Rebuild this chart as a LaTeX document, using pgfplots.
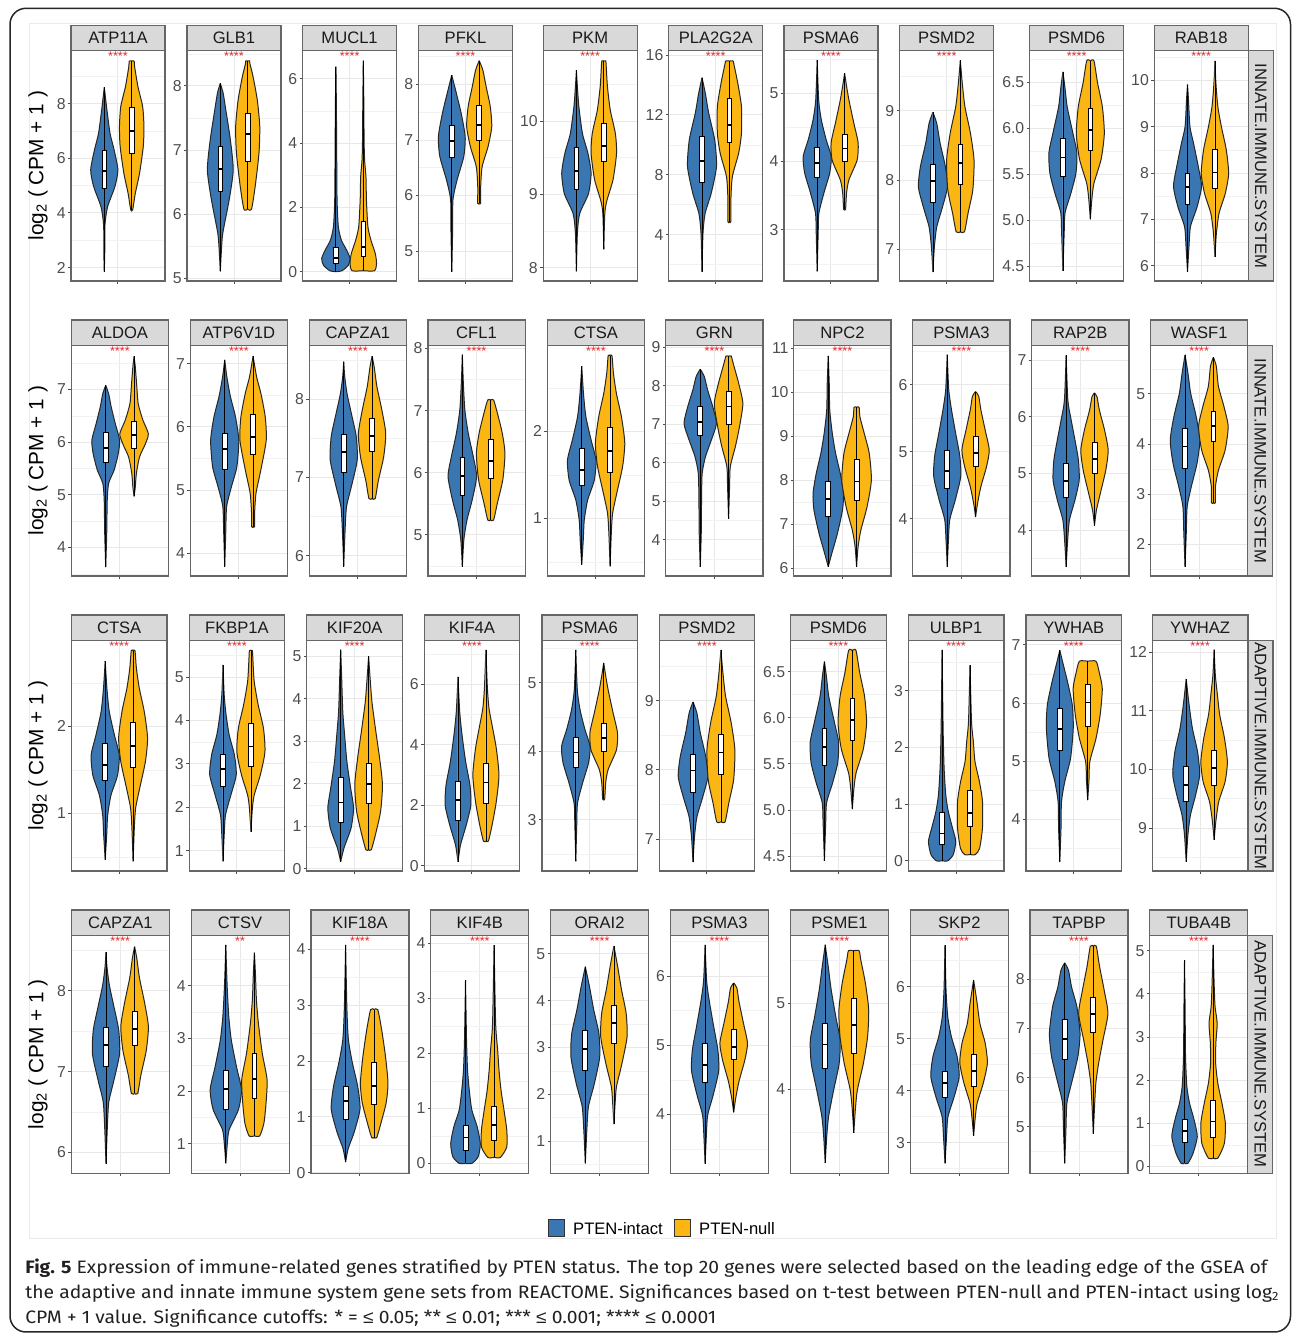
\documentclass[border=0pt]{standalone}
\usepackage{fontspec}
\setmainfont{Liberation Sans}
\newfontfamily\capfont{Fira Sans}
\newfontfamily\lsans{Liberation Sans}
\usepackage{graphicx}
\usepackage{pgfplots}
\pgfplotsset{compat=1.18}
\usepgfplotslibrary{statistics}

\definecolor{cB}{HTML}{3A77B2}
\definecolor{cO}{HTML}{FBB614}
\definecolor{stripfill}{HTML}{D9D9D9}
\definecolor{stripline}{HTML}{666666}
\definecolor{panelline}{HTML}{666666}
\definecolor{ticktext}{HTML}{4D4D4D}
\definecolor{striptext}{HTML}{1A1A1A}
\definecolor{starred}{HTML}{E4262B}
\definecolor{vline}{HTML}{262626}
\definecolor{captext}{HTML}{231F20}

\tikzset{stars/.style={font=\fontsize{6.3}{7}\selectfont, text=starred, anchor=north, inner sep=0pt, yshift=-0.6pt}}

\pgfplotsset{
 vp/.style={scale only axis, xmin=0.4, xmax=1.6, xtick={1}, xticklabels={},
  tick pos=left, tick align=outside, major tick length=1.5pt, minor tick length=0pt,
  grid=both, major grid style={draw=black!9, line width=0.5pt},
  minor grid style={draw=black!5, line width=0.3pt},
  axis line style={draw=panelline, line width=0.6pt},
  tick style={draw=black!70, line width=0.5pt},
  yticklabel style={font=\fontsize{7.9}{8.5}\selectfont, text=ticktext, inner sep=1pt},
  /pgf/number format/assume math mode=true, clip=false},
 r1/.style={vp, width=47pt, height=115.15pt},
 r2/.style={vp, width=48.6pt, height=115.35pt},
 r3/.style={vp, width=47.85pt, height=115.35pt},
 r4/.style={vp, width=49pt, height=119pt},
 gATP11A/.style={ymin=1.51, ymax=9.94, ytick={2,4,6,8}, minor ytick={3,5,7,9}},
 gGLB1/.style={ymin=4.96, ymax=8.55, ytick={5,6,7,8}, minor ytick={5.5,6.5,7.5,8.5}},
 gMUCL1/.style={ymin=-0.29, ymax=6.88, ytick={0,2,4,6}, minor ytick={1,3,5}},
 gPFKL/.style={ymin=4.46, ymax=8.61, ytick={5,6,7,8}, minor ytick={4.5,5.5,6.5,7.5,8.5}},
 gPKM/.style={ymin=7.82, ymax=10.96, ytick={8,9,10}, minor ytick={8.5,9.5,10.5}},
 gPLA2G2A/.style={ymin=0.9, ymax=16.29, ytick={4,8,12,16}, minor ytick={2,6,10,14}},
 gPSMA6/.style={ymin=2.25, ymax=5.62, ytick={3,4,5}, minor ytick={2.5,3.5,4.5,5.5}},
 gPSMD2/.style={ymin=6.54, ymax=9.87, ytick={7,8,9}, minor ytick={7.5,8.5,9.5}},
 gPSMD6/.style={ymin=4.34, ymax=6.84, ytick={4.5,5,5.5,6,6.5}, minor ytick={4.75,5.25,5.75,6.25,6.75},
   yticklabel style={/pgf/number format/.cd, fixed, fixed zerofill, precision=1}},
 gRAB18/.style={ymin=5.67, ymax=10.64, ytick={6,7,8,9,10}, minor ytick={6.5,7.5,8.5,9.5,10.5}},
 gALDOA/.style={ymin=3.46, ymax=7.84, ytick={4,5,6,7}, minor ytick={3.5,4.5,5.5,6.5,7.5}},
 gATP6V1D/.style={ymin=3.64, ymax=7.29, ytick={4,5,6,7}, minor ytick={4.5,5.5,6.5}},
 gCAPZA1/.style={ymin=5.74, ymax=8.69, ytick={6,7,8}, minor ytick={6.5,7.5,8.5}},
 gCFL1/.style={ymin=4.34, ymax=8.05, ytick={5,6,7,8}, minor ytick={4.5,5.5,6.5,7.5}},
 gCTSA/.style={ymin=0.34, ymax=2.99, ytick={1,2}, minor ytick={0.5,1.5,2.5}},
 gGRN/.style={ymin=3.06, ymax=9.05, ytick={4,5,6,7,8,9}, minor ytick={3.5,4.5,5.5,6.5,7.5,8.5}},
 gNPC2/.style={ymin=5.82, ymax=11.07, ytick={6,7,8,9,10,11}, minor ytick={6.5,7.5,8.5,9.5,10.5}},
 gPSMA3/.style={ymin=3.15, ymax=6.59, ytick={4,5,6}, minor ytick={3.5,4.5,5.5,6.5}},
 gRAP2B/.style={ymin=3.19, ymax=7.26, ytick={4,5,6,7}, minor ytick={3.5,4.5,5.5,6.5}},
 gWASF1/.style={ymin=1.37, ymax=5.97, ytick={2,3,4,5}, minor ytick={1.5,2.5,3.5,4.5,5.5}},
 gFKBP1A/.style={ymin=0.53, ymax=5.85, ytick={1,2,3,4,5}, minor ytick={1.5,2.5,3.5,4.5,5.5}},
 gKIF20A/.style={ymin=-0.05, ymax=5.38, ytick={0,1,2,3,4,5}, minor ytick={0.5,1.5,2.5,3.5,4.5}},
 gKIF4A/.style={ymin=-0.17, ymax=7.46, ytick={0,2,4,6}, minor ytick={1,3,5,7}},
 gULBP1/.style={ymin=-0.18, ymax=3.89, ytick={0,1,2,3}, minor ytick={0.5,1.5,2.5,3.5}},
 gYWHAB/.style={ymin=3.11, ymax=7.08, ytick={4,5,6,7}, minor ytick={3.5,4.5,5.5,6.5}},
 gYWHAZ/.style={ymin=8.27, ymax=12.2, ytick={9,10,11,12}, minor ytick={8.5,9.5,10.5,11.5}},
 gCTSV/.style={ymin=0.44, ymax=4.96, ytick={1,2,3,4}, minor ytick={0.5,1.5,2.5,3.5,4.5}},
 gKIF18A/.style={ymin=-0.01, ymax=4.25, ytick={0,1,2,3,4}, minor ytick={0.5,1.5,2.5,3.5}},
 gKIF4B/.style={ymin=-0.18, ymax=4.15, ytick={0,1,2,3,4}, minor ytick={0.5,1.5,2.5,3.5}},
 gORAI2/.style={ymin=0.31, ymax=5.4, ytick={1,2,3,4,5}, minor ytick={0.5,1.5,2.5,3.5,4.5}},
 gPSME1/.style={ymin=3.02, ymax=5.79, ytick={4,5}, minor ytick={3.5,4.5,5.5}},
 gSKP2/.style={ymin=2.41, ymax=6.99, ytick={3,4,5,6}, minor ytick={2.5,3.5,4.5,5.5,6.5}},
 gTAPBP/.style={ymin=4.06, ymax=8.89, ytick={5,6,7,8}, minor ytick={4.5,5.5,6.5,7.5,8.5}},
 gTUBA4B/.style={ymin=-0.16, ymax=5.36, ytick={0,1,2,3,4,5}, minor ytick={0.5,1.5,2.5,3.5,4.5}},
}

% violin: two mirrored halves read from a (y, half-width in px) profile
\newcommand{\vio}[3]{%
 \addplot[fill=#2, draw=vline, line width=0.5pt, smooth, tension=0.4] table[row sep=\\, x expr=#1+\thisrow{w}/80, y=y]{y w\\ #3};
 \addplot[fill=#2, draw=vline, line width=0.5pt, smooth, tension=0.4] table[row sep=\\, x expr=#1-\thisrow{w}/80, y=y]{y w\\ #3};
}
% box: position, lower whisker, q1, median, q3, upper whisker
\newcommand{\bx}[6]{%
 \addplot[draw=black, fill=white, line width=0.4pt, boxplot/draw direction=y, boxplot prepared={draw position=#1, lower whisker=#2, lower quartile=#3, median=#4, upper quartile=#5, upper whisker=#6, box extend=0.06, whisker extend=0, every median/.style={line width=0.9pt}}] coordinates {};
}
\newcommand{\defgene}[2]{\expandafter\def\csname c#1\endcsname{#2}}

\newcommand{\panel}[6]{% name, x, ytop, rowstyle, gene, stars
 \begin{axis}[name=#1, at={(#2pt,#3pt)}, anchor=north west, #4, g#5]
 \csname c#5\endcsname
 \node[stars] at (rel axis cs:0.5,1) {#6};
 \end{axis}
 \draw[fill=stripfill, draw=stripline, line width=0.6pt] (#1.north west) rectangle ([yshift=12.65pt]#1.north east);
 \node[font=\fontsize{8.3}{9}\selectfont, text=striptext, anchor=base, inner sep=0pt] at ([yshift=3.35pt]#1.north) {#5};
}
\newcommand{\facet}[2]{%
 \draw[fill=stripfill, draw=stripline, line width=0.6pt] (#1.north east) rectangle ([xshift=12.5pt]#1.south east);
 \node[rotate=-90, font=\fontsize{8.3}{9}\selectfont, text=striptext, inner sep=0pt] at ([xshift=6.25pt]#1.east) {#2};
}

% ---------------- data ----------------
\defgene{ATP11A}{%
\vio{0.825}{cB}{1.85 0\\2.6 0.5\\3.56 0.7\\4.23 3.4\\4.96 10.8\\5.57 13.9\\6.3 10.1\\6.91 5.9\\7.77 2.7\\8.6 0\\}%
\vio{1.175}{cO}{4.11 0\\4.11 1\\4.72 3.7\\5.45 8\\6.43 11.8\\7.16 12.5\\7.89 11.2\\8.62 6.4\\9.35 3\\9.56 2.5\\9.56 0\\}%
\bx{0.825}{1.85}{4.9}{5.55}{6.3}{8.6}%
\bx{1.175}{4.11}{6.18}{7.01}{7.87}{9.56}}

\defgene{GLB1}{%
\vio{0.825}{cB}{5.11 0\\5.4 1\\5.70 2.5\\6.22 9\\6.69 13.2\\7.16 10.3\\7.63 5.6\\7.89 2.9\\8.04 0\\}%
\vio{1.175}{cO}{6.08 0\\6.08 3.9\\6.43 7.6\\6.95 11.5\\7.37 12.3\\7.78 9.8\\8.15 5.4\\8.35 2.2\\8.39 2\\8.39 0\\}%
\bx{0.825}{5.11}{6.35}{6.70}{7.06}{8.04}%
\bx{1.175}{6.08}{6.83}{7.25}{7.58}{8.39}}

\defgene{MUCL1}{%
\vio{0.825}{cB}{0 0\\0.03 6.3\\0.2 12.7\\0.41 14.5\\0.67 11\\0.98 5.6\\1.4 2.5\\2.23 1.2\\3.79 0.8\\5.2 0.5\\6.38 0\\}%
\vio{1.175}{cO}{0.03 0\\0.03 11.5\\0.26 13.5\\0.57 12.2\\0.98 7.8\\1.4 4.7\\2.23 3.2\\2.96 2.7\\3.48 1.3\\4.1 0.8\\5.3 0.5\\6.57 0\\}%
\bx{0.825}{0}{0.26}{0.43}{0.76}{6.38}%
\bx{1.175}{0.03}{0.49}{0.76}{1.58}{6.57}}

\defgene{PFKL}{%
\vio{0.825}{cB}{4.63 0\\5.32 0.8\\5.92 1.2\\6.28 5.4\\6.70 12.2\\7.06 13.7\\7.48 9.6\\7.84 4.7\\8.17 0\\}%
\vio{1.175}{cO}{5.86 0\\5.86 1.5\\6.16 1.5\\6.52 3\\6.88 9\\7.24 12.8\\7.60 11.3\\7.96 7.1\\8.26 3.7\\8.43 0\\}%
\bx{0.825}{4.63}{6.69}{6.98}{7.26}{8.17}%
\bx{1.175}{5.86}{6.99}{7.27}{7.62}{8.43}}

\defgene{PKM}{%
\vio{0.825}{cB}{7.95 0\\8.47 1\\8.74 3.4\\9.01 12.3\\9.29 15\\9.56 11.8\\9.83 6.2\\10.2 2.5\\10.47 1\\10.69 0\\}%
\vio{1.175}{cO}{8.25 0\\8.74 1\\8.92 3.2\\9.2 9.4\\9.56 13\\9.83 11.8\\10.15 6.6\\10.47 3.7\\10.74 2.5\\10.82 2\\10.82 0\\}%
\bx{0.825}{7.95}{9.07}{9.32}{9.64}{10.69}%
\bx{1.175}{8.25}{9.45}{9.66}{9.97}{10.82}}

\defgene{PLA2G2A}{%
\vio{0.825}{cB}{1.52 0\\4.08 1\\5.42 3.2\\6.76 9.4\\8.54 14.8\\10.32 13\\12.1 6.9\\13.44 3.4\\14.49 0\\}%
\vio{1.175}{cO}{4.86 0\\4.86 1.5\\6.31 1.5\\7.87 3\\9.43 9.4\\10.77 12.3\\12.55 12.3\\14.1 8.6\\15.44 4.4\\15.6 3.7\\15.6 0\\}%
\bx{0.825}{1.52}{7.47}{8.94}{10.54}{14.49}%
\bx{1.175}{4.86}{10.16}{11.32}{13.08}{15.6}}

\defgene{PSMA6}{%
\vio{0.825}{cB}{2.39 0\\2.95 1\\3.24 1.7\\3.54 6.9\\3.83 12.8\\4.07 14.3\\4.32 9.1\\4.61 4.2\\4.9 1.5\\5.48 0\\}%
\vio{1.175}{cO}{3.3 0\\3.3 1\\3.54 2\\3.73 4.4\\4.02 12.8\\4.27 13.8\\4.56 9.4\\4.9 4.4\\5.1 2\\5.29 0\\}%
\bx{0.825}{2.39}{3.76}{3.98}{4.2}{5.48}%
\bx{1.175}{3.3}{4.0}{4.19}{4.40}{5.29}}

\defgene{PSMD2}{%
\vio{0.825}{cB}{6.67 0\\7.03 1.5\\7.32 3.9\\7.61 9.8\\7.9 14.8\\8.19 12.8\\8.53 7.4\\8.82 3.9\\8.98 0\\}%
\vio{1.175}{cO}{7.25 0\\7.25 4.2\\7.52 7.9\\7.86 12.8\\8.29 14\\8.68 10.3\\9.06 4.7\\9.4 2\\9.73 0\\}%
\bx{0.825}{6.67}{7.68}{7.99}{8.23}{8.98}%
\bx{1.175}{7.25}{7.94}{8.25}{8.51}{9.73}}

\defgene{PSMD6}{%
\vio{0.825}{cB}{4.45 0\\4.86 1.3\\5.08 2.2\\5.29 8.1\\5.51 13.3\\5.73 14.3\\5.94 10.3\\6.23 4.4\\6.45 2\\6.61 0\\}%
\vio{1.175}{cO}{5.01 0\\5.22 1.5\\5.40 3.7\\5.66 11\\5.94 14.3\\6.23 12.3\\6.49 7.4\\6.73 3.7\\6.73 0\\}%
\bx{0.825}{4.45}{5.48}{5.68}{5.89}{6.61}%
\bx{1.175}{5.01}{5.76}{5.98}{6.21}{6.73}}

\defgene{RAB18}{%
\vio{0.825}{cB}{5.87 0\\6.41 1.5\\6.84 3\\7.27 9.8\\7.71 14.3\\8.14 11\\8.64 6.2\\9.0 2.5\\9.58 1\\9.91 0\\}%
\vio{1.175}{cO}{6.19 0\\6.7 1.5\\7.13 4.2\\7.56 10.6\\7.99 14\\8.5 11.6\\9.0 6.6\\9.43 3\\9.94 1\\10.42 0\\}%
\bx{0.825}{5.87}{7.33}{7.69}{7.99}{9.91}%
\bx{1.175}{6.19}{7.67}{8.01}{8.51}{10.42}}

\defgene{ALDOA}{%
\vio{0.825}{cB}{3.63 0\\4.27 1\\4.9 1.5\\5.22 2.9\\5.47 8.3\\5.78 12.4\\6.04 13.7\\6.35 9.5\\6.67 5.4\\6.92 2.9\\7.08 0\\}%
\vio{1.175}{cO}{4.97 0\\5.15 1.2\\5.41 2.3\\5.72 5.4\\5.97 11.2\\6.16 14.1\\6.42 8.7\\6.73 4.1\\7.11 2.5\\7.43 1.2\\7.63 0\\}%
\bx{0.825}{3.63}{5.61}{5.89}{6.18}{7.08}%
\bx{1.175}{4.97}{5.88}{6.13}{6.4}{7.63}}

\defgene{ATP6V1D}{%
\vio{0.825}{cB}{3.79 0\\4.32 1\\4.74 1.9\\5.05 6.6\\5.37 12\\5.79 13.9\\6.16 10.6\\6.48 5.6\\6.79 2.1\\7.06 0\\}%
\vio{1.175}{cO}{4.42 0\\4.42 1.5\\4.63 1.5\\4.95 2.9\\5.32 7.7\\5.79 13\\6.16 12\\6.53 7.7\\6.79 3.5\\7.12 0\\}%
\bx{0.825}{3.79}{5.32}{5.65}{5.89}{7.06}%
\bx{1.175}{4.42}{5.57}{5.84}{6.2}{7.12}}

\defgene{CAPZA1}{%
\vio{0.825}{cB}{5.86 0\\6.28 1.2\\6.62 2.7\\6.88 7.5\\7.22 13.3\\7.52 12.4\\7.82 7.5\\8.07 3.3\\8.29 1\\8.48 0\\}%
\vio{1.175}{cO}{6.73 0\\6.73 3.1\\6.96 6.2\\7.26 11.4\\7.56 13.5\\7.86 9.7\\8.16 4.8\\8.41 2.1\\8.55 0\\}%
\bx{0.825}{5.86}{7.07}{7.33}{7.55}{8.48}%
\bx{1.175}{6.73}{7.33}{7.53}{7.75}{8.55}}

\defgene{CFL1}{%
\vio{0.825}{cB}{4.49 0\\4.92 1.5\\5.24 4.6\\5.56 9.7\\5.94 14.1\\6.26 10.8\\6.64 5.8\\7.01 2.5\\7.44 1\\7.9 0\\}%
\vio{1.175}{cO}{5.24 0\\5.24 2.9\\5.51 6.6\\5.89 12\\6.31 14.1\\6.64 11.4\\6.96 6.6\\7.17 2.9\\7.17 0\\}%
\bx{0.825}{4.49}{5.64}{5.95}{6.25}{7.9}%
\bx{1.175}{5.24}{5.91}{6.19}{6.53}{7.17}}

\defgene{CTSA}{%
\vio{0.825}{cB}{0.47 0\\0.75 1.5\\0.98 2.5\\1.21 5.8\\1.44 12.4\\1.67 14.1\\1.9 9.3\\2.17 4.1\\2.44 1.7\\2.75 0\\}%
\vio{1.175}{cO}{0.45 0\\0.83 1.2\\1.06 2.5\\1.29 6.6\\1.6 12.4\\1.87 14.5\\2.17 11.2\\2.44 6.2\\2.67 3.3\\2.87 1.9\\2.87 0\\}%
\bx{0.825}{0.47}{1.38}{1.56}{1.8}{2.75}%
\bx{1.175}{0.45}{1.53}{1.78}{2.05}{2.87}}

\defgene{GRN}{%
\vio{0.825}{cB}{3.3 0\\4.16 1\\5.03 1.3\\5.72 1.9\\6.16 5.2\\6.59 11\\7.02 16\\7.46 12.3\\7.89 7.3\\8.24 4\\8.43 0\\}%
\vio{1.175}{cO}{4.54 0\\5.38 1\\5.9 1.7\\6.42 6.7\\6.94 10.8\\7.54 14.1\\8.06 10\\8.5 5.4\\8.71 3.3\\8.77 2.7\\8.77 0\\}%
\bx{0.825}{3.3}{6.7}{7.06}{7.46}{8.43}%
\bx{1.175}{4.54}{7.0}{7.46}{7.85}{8.77}}

\defgene{NPC2}{%
\vio{0.825}{cB}{6.03 0\\6.33 3.5\\6.79 9.1\\7.32 14.1\\7.7 15\\8.15 11.9\\8.61 7.3\\9.07 4\\9.6 1.5\\10.2 1\\10.83 0\\}%
\vio{1.175}{cO}{6.03 0\\6.49 1.5\\6.86 4.2\\7.4 10.4\\8.0 14.6\\8.61 12.5\\9.07 7.5\\9.44 3.3\\9.66 2.5\\9.66 0\\}%
\bx{0.825}{6.03}{7.17}{7.57}{7.97}{10.83}%
\bx{1.175}{6.03}{7.53}{7.97}{8.47}{9.66}}

\defgene{PSMA3}{%
\vio{0.825}{cB}{3.29 0\\3.69 1.2\\3.99 2.5\\4.28 7.9\\4.63 13.3\\4.93 12.5\\5.28 8.3\\5.63 4.2\\5.93 1.5\\6.45 0\\}%
\vio{1.175}{cO}{4.03 0\\4.23 1.9\\4.48 5.2\\4.78 10.8\\5.03 13.5\\5.33 9.4\\5.63 5.2\\5.83 3.1\\5.9 0\\}%
\bx{0.825}{3.29}{4.46}{4.72}{5.03}{6.45}%
\bx{1.175}{4.03}{4.79}{4.98}{5.23}{5.9}}

\defgene{RAP2B}{%
\vio{0.825}{cB}{3.35 0\\3.82 1.5\\4.18 3.3\\4.53 8.7\\4.88 12.9\\5.24 12.1\\5.59 8.7\\5.94 5\\6.29 1.7\\7.08 0\\}%
\vio{1.175}{cO}{4.08 0\\4.35 1.9\\4.65 5.8\\5.06 11.2\\5.41 13.5\\5.76 10\\6.12 4.8\\6.35 2.5\\6.42 0\\}%
\bx{0.825}{3.35}{4.58}{4.86}{5.18}{7.08}%
\bx{1.175}{4.08}{5.0}{5.25}{5.54}{6.42}}

\defgene{WASF1}{%
\vio{0.825}{cB}{1.55 0\\2.22 1.2\\2.75 2.1\\3.15 6.2\\3.62 11.9\\4.08 14.6\\4.55 11\\5.01 5.6\\5.41 2.9\\5.78 0\\}%
\vio{1.175}{cO}{2.83 0\\2.83 2\\3.15 2\\3.48 5\\3.88 11.6\\4.35 14.6\\4.75 10.4\\5.15 5\\5.55 2.9\\5.73 0\\}%
\bx{0.825}{1.55}{3.52}{3.95}{4.31}{5.78}%
\bx{1.175}{2.83}{4.05}{4.36}{4.65}{5.73}}

\defgene{FKBP1A}{%
\vio{0.825}{cB}{0.75 0\\1.36 1.2\\1.82 2.5\\2.28 7.9\\2.75 13.3\\3.21 11.4\\3.67 6.2\\4.13 3.1\\4.59 1.2\\5.28 0\\}%
\vio{1.175}{cO}{1.44 0\\1.98 1.5\\2.28 3.3\\2.75 9.5\\3.28 14.1\\3.82 12.6\\4.36 7.3\\4.9 3.3\\5.36 2.1\\5.61 1.5\\5.61 0\\}%
\bx{0.825}{0.75}{2.49}{2.88}{3.21}{5.28}%
\bx{1.175}{1.44}{2.95}{3.4}{3.94}{5.61}}

\defgene{KIF20A}{%
\vio{0.825}{cB}{0.17 0\\0.49 3.3\\0.96 10.4\\1.43 12.9\\1.9 10\\2.53 6.2\\3.16 3.9\\3.7 2.1\\4.49 1\\5.16 0\\}%
\vio{1.175}{cO}{0.45 0\\0.45 2.7\\0.8 6.8\\1.35 12\\1.98 13.9\\2.61 11\\3.31 6.8\\3.94 3.3\\4.49 1.5\\5.0 0\\}%
\bx{0.825}{0.17}{1.09}{1.56}{2.15}{5.16}%
\bx{1.175}{0.45}{1.55}{2.0}{2.49}{5.0}}

\defgene{KIF4A}{%
\vio{0.825}{cB}{0.13 0\\0.69 2.5\\1.35 8.3\\2.01 12.9\\2.67 12\\3.44 7.7\\4.32 4.1\\5.1 1.7\\6.25 0\\}%
\vio{1.175}{cO}{0.82 0\\0.82 2.5\\1.35 6.2\\2.12 10.4\\3.0 13.1\\3.89 10.4\\4.65 6.2\\5.21 3.1\\5.87 1.5\\7.14 0\\}%
\bx{0.825}{0.13}{1.49}{2.17}{2.8}{6.25}%
\bx{1.175}{0.82}{2.06}{2.76}{3.39}{7.14}}

\defgene{ULBP1}{%
\vio{0.825}{cB}{0 0\\0 5.8\\0.11 11.2\\0.34 13.7\\0.58 10.4\\0.87 6.2\\1.16 3.7\\1.64 2\\2.34 1\\3.72 0\\}%
\vio{1.175}{cO}{0.11 0\\0.11 5.4\\0.22 9.6\\0.58 12.5\\1.05 12.5\\1.4 9.4\\1.75 5\\2.11 3.3\\2.46 1.5\\3.45 0\\}%
\bx{0.825}{0}{0.29}{0.48}{0.86}{3.72}%
\bx{1.175}{0.11}{0.61}{0.84}{1.24}{3.45}}

\defgene{YWHAB}{%
\vio{0.825}{cB}{3.27 0\\3.84 1.2\\4.3 1.7\\4.65 5\\5.05 10.8\\5.57 13.5\\5.97 12.5\\6.37 7.7\\6.66 3.5\\6.91 0\\}%
\vio{1.175}{cO}{4.33 0\\4.65 1.2\\4.99 2.1\\5.39 8.3\\5.8 12.5\\6.25 14.6\\6.54 11.4\\6.72 8.3\\6.72 0\\}%
\bx{0.825}{3.27}{5.18}{5.55}{5.9}{6.91}%
\bx{1.175}{4.33}{5.59}{6.01}{6.32}{6.72}}

\defgene{YWHAZ}{%
\vio{0.825}{cB}{8.43 0\\8.88 1.7\\9.22 4.2\\9.56 9.4\\9.91 13.5\\10.3 11.4\\10.7 6.2\\11.1 2.9\\11.54 0\\}%
\vio{1.175}{cO}{8.8 0\\9.11 1.7\\9.45 4.6\\9.79 11\\10.13 13.3\\10.53 10.4\\10.93 5.6\\11.27 3.3\\11.61 1.2\\12.04 0\\}%
\bx{0.825}{8.43}{9.46}{9.73}{10.05}{11.54}%
\bx{1.175}{8.8}{9.72}{10.03}{10.33}{12.04}}

\defgene{CTSV}{%
\vio{0.825}{cB}{0.63 0\\1.01 1.5\\1.27 3.3\\1.65 12.4\\2.03 15.3\\2.47 10.4\\2.97 5.4\\3.42 2.9\\4.05 1.2\\4.78 0\\}%
\vio{1.175}{cO}{1.15 0\\1.15 5.2\\1.39 9.3\\1.77 11.4\\2.22 12.4\\2.72 7.7\\3.29 3.9\\3.73 2\\4.24 1\\4.63 0\\}%
\bx{0.825}{0.63}{1.66}{2.04}{2.39}{4.78}%
\bx{1.175}{1.15}{1.87}{2.23}{2.72}{4.63}}

\defgene{KIF18A}{%
\vio{0.825}{cB}{0.19 0\\0.43 2.5\\0.72 8.3\\1.14 14.1\\1.55 11.8\\1.97 6.6\\2.39 2.7\\2.98 1.2\\4.08 0\\}%
\vio{1.175}{cO}{0.63 0\\0.63 2.5\\0.9 6.8\\1.26 11.8\\1.61 13.5\\2.09 11\\2.56 7.3\\2.92 3.5\\2.92 0\\}%
\bx{0.825}{0.19}{0.96}{1.28}{1.54}{4.08}%
\bx{1.175}{0.63}{1.23}{1.55}{1.97}{2.92}}

\defgene{KIF4B}{%
\vio{0.825}{cB}{0 0\\0 6.2\\0.12 12.4\\0.36 14.5\\0.67 11.4\\0.97 6.2\\1.33 3.7\\1.7 2\\2.24 1\\3.33 0\\}%
\vio{1.175}{cO}{0.11 0\\0.11 6.2\\0.3 12.4\\0.61 12.4\\0.97 9.7\\1.33 6.8\\1.7 4.8\\2.06 3.5\\2.55 1.5\\3.97 0\\}%
\bx{0.825}{0}{0.24}{0.47}{0.7}{3.33}%
\bx{1.175}{0.11}{0.42}{0.7}{1.03}{3.97}}

\defgene{ORAI2}{%
\vio{0.825}{cB}{0.52 0\\1.24 1.5\\1.74 3.1\\2.23 8.9\\2.8 14.1\\3.3 13.3\\3.8 8.3\\4.3 4.1\\4.73 0\\}%
\vio{1.175}{cO}{1.36 0\\1.81 1.2\\2.16 2.5\\2.66 7.9\\3.23 12.9\\3.73 12\\4.23 7.5\\4.73 3.7\\5.17 0\\}%
\bx{0.825}{0.52}{2.52}{2.96}{3.36}{4.73}%
\bx{1.175}{1.36}{3.09}{3.52}{3.9}{5.17}}

\defgene{PSME1}{%
\vio{0.825}{cB}{3.14 0\\3.45 1.5\\3.68 3.3\\3.99 8.3\\4.3 13.7\\4.57 14.6\\4.84 10.4\\5.16 5.8\\5.43 2.9\\5.68 0\\}%
\vio{1.175}{cO}{3.49 0\\3.76 1.5\\3.99 3.5\\4.3 9.4\\4.61 13.5\\4.92 14.6\\5.23 11.4\\5.5 6.9\\5.61 5.2\\5.61 0\\}%
\bx{0.825}{3.14}{4.24}{4.52}{4.76}{5.68}%
\bx{1.175}{3.49}{4.41}{4.75}{5.06}{5.61}}

\defgene{SKP2}{%
\vio{0.825}{cB}{2.6 0\\3.12 1.5\\3.5 2.9\\3.88 8.9\\4.27 13.9\\4.65 11.9\\5.04 6.2\\5.42 2.7\\5.94 1\\6.8 0\\}%
\vio{1.175}{cO}{3.13 0\\3.5 1.7\\3.76 3.5\\4.14 9.4\\4.53 13.5\\4.91 11.4\\5.29 6.2\\5.68 3.5\\5.94 1.5\\6.13 0\\}%
\bx{0.825}{2.6}{3.87}{4.15}{4.38}{6.8}%
\bx{1.175}{3.13}{4.09}{4.38}{4.69}{6.13}}

\defgene{TAPBP}{%
\vio{0.825}{cB}{4.26 0\\4.94 1.2\\5.48 2.1\\5.89 6.7\\6.43 12.9\\6.9 15\\7.44 11.9\\7.84 6.7\\8.18 3.7\\8.33 0\\}%
\vio{1.175}{cO}{4.86 0\\5.41 1.2\\5.89 2.5\\6.29 5.2\\6.76 9.4\\7.3 14.3\\7.78 10.6\\8.25 6.2\\8.67 2.9\\8.67 0\\}%
\bx{0.825}{4.26}{6.37}{6.78}{7.18}{8.33}%
\bx{1.175}{4.86}{6.91}{7.29}{7.63}{8.67}}

\defgene{TUBA4B}{%
\vio{0.825}{cB}{0.07 0\\0.07 3.3\\0.3 8.3\\0.69 12.5\\1.08 9.4\\1.46 5\\1.85 2.3\\2.55 1\\3.6 0.6\\4.78 0\\}%
\vio{1.175}{cO}{0.19 0\\0.19 4.6\\0.53 11\\1.0 12\\1.46 8.7\\1.93 4.6\\2.39 2.5\\2.86 2.7\\3.32 4\\3.71 1.9\\4.25 1\\5.14 0\\}%
\bx{0.825}{0.07}{0.55}{0.83}{1.09}{4.78}%
\bx{1.175}{0.19}{0.67}{1.04}{1.52}{5.14}}

\newlength\capw
\newcommand{\capsize}{\fontsize{9}{11}\selectfont}
\newcommand{\lineA}{\textbf{Fig. 5} Expression of immune-related genes stratified by PTEN status. The top 20 genes were selected based on the leading edge of the GSEA of}
\newcommand{\lineB}{the adaptive and innate immune system gene sets from REACTOME. Significances based on t-test between PTEN-null and PTEN-intact using log\textsubscript{2}}
\newcommand{\lineC}{CPM + 1 value. Significance cutoffs: * = {\lsans ≤} 0.05; ** {\lsans ≤} 0.01; *** {\lsans ≤} 0.001; **** {\lsans ≤} 0.0001}

\begin{document}%
\settowidth\capw{\capfont\capsize\lineA}%
\pgfmathsetmacro\capsx{621/\capw}%
\begin{tikzpicture}
\useasboundingbox (0,0) rectangle (646pt,668.5pt);
\draw[draw=black!8, line width=0.5pt] (14.5pt,49pt) rectangle (638pt,656.5pt);
\draw[draw=black!85, line width=0.75pt, rounded corners=8pt] (5pt,2.5pt) rectangle (645.25pt,664.35pt);

% Row 1
\panel{a1}{35.5}{643.15}{r1}{ATP11A}{****}
\panel{a2}{93.5}{643.15}{r1}{GLB1}{****}
\panel{a3}{151.3}{643.15}{r1}{MUCL1}{****}
\panel{a4}{209.25}{643.15}{r1}{PFKL}{****}
\panel{a5}{271.55}{643.15}{r1}{PKM}{****}
\panel{a6}{334.35}{643.15}{r1}{PLA2G2A}{****}
\panel{a7}{391.95}{643.15}{r1}{PSMA6}{****}
\panel{a8}{449.8}{643.15}{r1}{PSMD2}{****}
\panel{a9}{514.8}{643.15}{r1}{PSMD6}{****}
\panel{a10}{577.1}{643.15}{r1}{RAB18}{****}
\facet{a10}{INNATE.IMMUNE.SYSTEM}
% Row 2
\panel{b1}{35.65}{495.85}{r2}{ALDOA}{****}
\panel{b2}{95.15}{495.85}{r2}{ATP6V1D}{****}
\panel{b3}{154.65}{495.85}{r2}{CAPZA1}{****}
\panel{b4}{213.95}{495.85}{r2}{CFL1}{****}
\panel{b5}{273.65}{495.85}{r2}{CTSA}{****}
\panel{b6}{332.9}{495.85}{r2}{GRN}{****}
\panel{b7}{396.9}{495.85}{r2}{NPC2}{****}
\panel{b8}{456.4}{495.85}{r2}{PSMA3}{****}
\panel{b9}{515.85}{495.85}{r2}{RAP2B}{****}
\panel{b10}{575.3}{495.85}{r2}{WASF1}{****}
\facet{b10}{INNATE.IMMUNE.SYSTEM}
% Row 3
\panel{c1}{35.65}{348.35}{r3}{CTSA}{****}
\panel{c2}{94.55}{348.35}{r3}{FKBP1A}{****}
\panel{c3}{153.4}{348.35}{r3}{KIF20A}{****}
\panel{c4}{212.05}{348.35}{r3}{KIF4A}{****}
\panel{c5}{270.95}{348.35}{r3}{PSMA6}{****}
\panel{c6}{329.55}{348.35}{r3}{PSMD2}{****}
\panel{c7}{395.25}{348.35}{r3}{PSMD6}{****}
\panel{c8}{454.1}{348.35}{r3}{ULBP1}{****}
\panel{c9}{512.95}{348.35}{r3}{YWHAB}{****}
\panel{c10}{576.15}{348.35}{r3}{YWHAZ}{****}
\facet{c10}{ADAPTIVE.IMMUNE.SYSTEM}
% Row 4
\panel{d1}{35.65}{200.85}{r4}{CAPZA1}{****}
\panel{d2}{95.55}{200.85}{r4}{CTSV}{**}
\panel{d3}{155.45}{200.85}{r4}{KIF18A}{****}
\panel{d4}{215.4}{200.85}{r4}{KIF4B}{****}
\panel{d5}{275.3}{200.85}{r4}{ORAI2}{****}
\panel{d6}{335.2}{200.85}{r4}{PSMA3}{****}
\panel{d7}{395.25}{200.85}{r4}{PSME1}{****}
\panel{d8}{455.15}{200.85}{r4}{SKP2}{****}
\panel{d9}{515}{200.85}{r4}{TAPBP}{****}
\panel{d10}{574.9}{200.85}{r4}{TUBA4B}{****}
\facet{d10}{ADAPTIVE.IMMUNE.SYSTEM}

% y titles
\foreach \yy in {585.6,438.2,290.7,141.35}{
 \node[rotate=90, font=\fontsize{10.4}{12}\selectfont, inner sep=0pt] at (19pt,\yy pt) {log\textsubscript{2} ( CPM + 1 )};
}

% legend
\draw[fill=cB, draw=black!80, line width=0.5pt] (274pt,50pt) rectangle (282pt,58.5pt);
\node[anchor=west, font=\fontsize{8.3}{9}\selectfont, inner sep=0pt] at (286.4pt,54.25pt) {PTEN-intact};
\draw[fill=cO, draw=black!80, line width=0.5pt] (337pt,50pt) rectangle (345pt,58.5pt);
\node[anchor=west, font=\fontsize{8.3}{9}\selectfont, inner sep=0pt] at (349.4pt,54.25pt) {PTEN-null};

% caption
\node[anchor=base west, inner sep=0pt, text=captext] at (12.5pt,31.85pt) {\scalebox{\capsx}[1]{\capfont\capsize\lineA}};
\node[anchor=base west, inner sep=0pt, text=captext] at (12.5pt,19.35pt) {\scalebox{\capsx}[1]{\capfont\capsize\lineB}};
\node[anchor=base west, inner sep=0pt, text=captext] at (12.5pt,6.85pt) {\scalebox{\capsx}[1]{\capfont\capsize\lineC}};
\end{tikzpicture}
\end{document}
